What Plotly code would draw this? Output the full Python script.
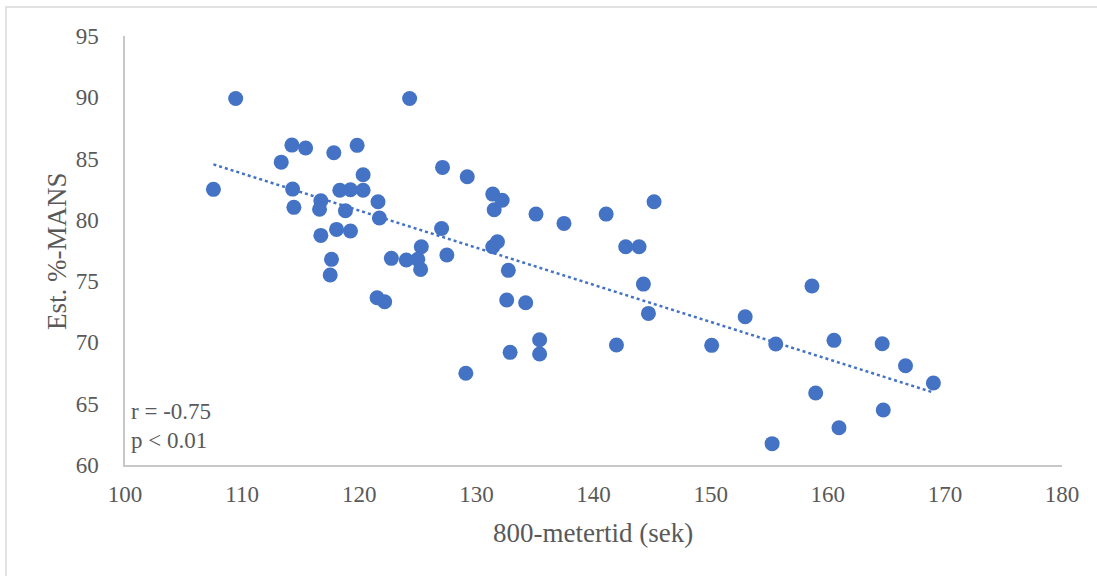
import numpy as np
import plotly.graph_objects as go

# 800 m time (sek)
tid = [109.45, 124.3, 107.55, 113.34, 114.25, 115.42, 117.83, 119.82, 120.33, 114.31,
       114.42, 116.72, 116.61, 118.34, 119.25, 120.33, 118.82, 121.6, 121.72,
       116.72, 118.06, 119.25, 117.63, 117.52, 121.52, 122.17, 122.74, 124.02,
       127.11, 129.22, 131.4, 132.2, 131.52, 135.09, 137.48, 141.08, 145.17, 127.03,
       125.3, 125.0, 125.24, 127.48, 131.4, 131.8, 132.73, 142.75, 143.89, 144.26,
       132.59, 134.21, 135.4, 135.4, 132.88, 129.1, 141.96, 144.69,
       158.65, 152.95, 150.09, 155.56, 160.53, 164.65, 166.64, 169.02, 158.97, 164.74, 160.96, 155.25]
# Estimated %-MANS
mans = [89.9, 89.9, 82.49, 84.71, 86.1, 85.86, 85.47, 86.08, 83.68, 82.51,
        81.02, 81.56, 80.86, 82.41, 82.46, 82.41, 80.74, 81.48, 80.15,
        78.73, 79.22, 79.09, 76.78, 75.5, 73.65, 73.32, 76.86, 76.72,
        84.28, 83.52, 82.1, 81.6, 80.82, 80.47, 79.71, 80.47, 81.48, 79.3,
        77.8, 76.78, 75.96, 77.13, 77.8, 78.21, 75.88, 77.8, 77.8, 74.76,
        73.46, 73.24, 70.22, 69.05, 69.19, 67.48, 69.79, 72.37,
        74.6, 72.1, 69.76, 69.87, 70.17, 69.89, 68.1, 66.69, 65.87, 64.49, 63.04, 61.74]

x_ticks = [100, 110, 120, 130, 140, 150, 160, 170, 180]
y_ticks = [60, 65, 70, 75, 80, 85, 90, 95]

BLUE = "#4472C4"
GREY = "#595959"
FONT = "Liberation Serif, Times New Roman, serif"

slope, intercept = np.polyfit(tid, mans, 1)
tx = np.array([min(tid), max(tid)])
ty = slope * tx + intercept

W, H = 1097, 576
L, R, T, B = 125, 35, 36, 111
pw, ph = W - L - R, H - T - B


def px(xpix):
    return (xpix - L) / pw


def py(ypix):
    return (H - B - ypix) / ph


fig = go.Figure()
fig.add_trace(go.Scatter(x=tx, y=ty, mode="lines",
                         line=dict(color=BLUE, width=2.5, dash="dot"),
                         hoverinfo="skip", showlegend=False))
fig.add_trace(go.Scatter(x=tid, y=mans, mode="markers",
                         marker=dict(color=BLUE, size=15, line=dict(width=0)),
                         showlegend=False))

fig.update_layout(
    width=W, height=H,
    margin=dict(l=L, r=R, t=T, b=B),
    paper_bgcolor="white", plot_bgcolor="white",
    font=dict(family=FONT, color=GREY, size=23),
    xaxis=dict(range=[100, 180], tickvals=x_ticks, ticktext=[str(v) for v in x_ticks],
               showgrid=False, zeroline=False, showline=True, linecolor="#C8C8C8", linewidth=1.5,
               ticks="", ticklabelstandoff=8,
               tickfont=dict(family=FONT, size=23, color=GREY)),
    yaxis=dict(range=[60, 95], tickvals=y_ticks, ticktext=[str(v) for v in y_ticks],
               showgrid=False, zeroline=False, showline=True, linecolor="#C8C8C8", linewidth=1.5,
               ticks="", ticklabelstandoff=20,
               tickfont=dict(family=FONT, size=23, color=GREY)),
    annotations=[
        dict(text="800-metertid (sek)", xref="paper", yref="paper", x=px(593), y=py(533),
             xanchor="center", yanchor="middle", showarrow=False,
             font=dict(family=FONT, size=27, color=GREY)),
        dict(text="Est. %-MANS", xref="paper", yref="paper", x=px(57), y=py(251),
             xanchor="center", yanchor="middle", showarrow=False, textangle=-90,
             font=dict(family=FONT, size=27, color=GREY)),
        dict(text="r = -0.75", xref="paper", yref="paper", x=px(129), y=py(411),
             xanchor="left", yanchor="middle", showarrow=False,
             font=dict(family=FONT, size=23, color=GREY)),
        dict(text="p < 0.01", xref="paper", yref="paper", x=px(129), y=py(440),
             xanchor="left", yanchor="middle", showarrow=False,
             font=dict(family=FONT, size=23, color=GREY)),
    ],
    shapes=[dict(type="rect", xref="paper", yref="paper",
                 x0=px(6), x1=px(1110), y0=py(590), y1=py(7),
                 line=dict(color="#D9D9D9", width=1.5), fillcolor="rgba(0,0,0,0)", layer="below")],
)

fig.write_html("out.html", config={"displayModeBar": False},
               post_script="document.body.style.margin='0';document.body.style.overflow='hidden';")
